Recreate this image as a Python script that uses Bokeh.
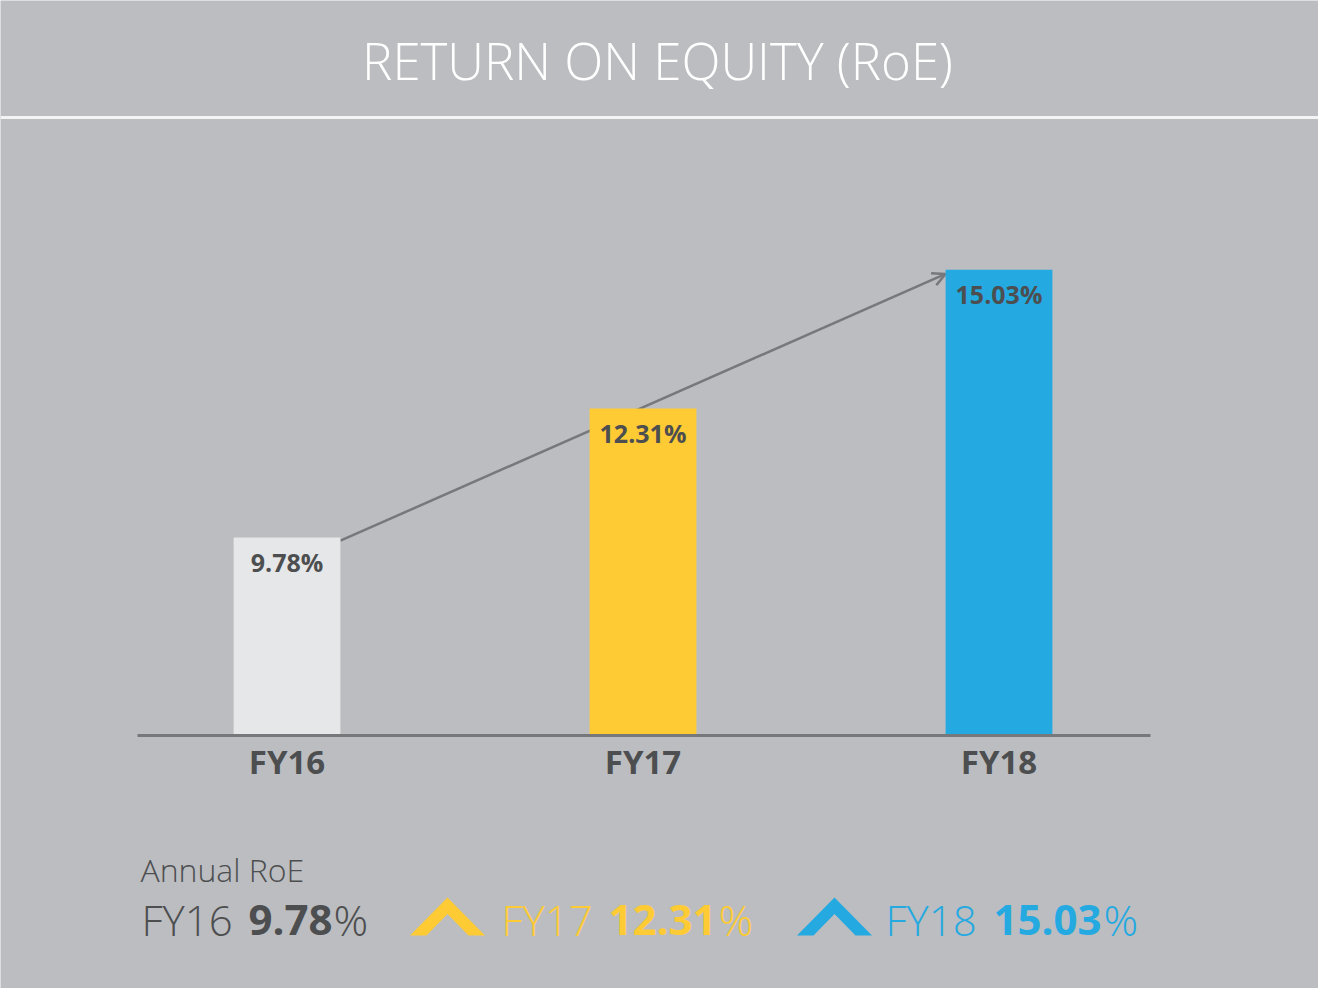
from bokeh.plotting import figure
from bokeh.models import Range1d, Label, LabelSet, Arrow, OpenHead, Span, ColumnDataSource
from bokeh.core.properties import value
from bokeh.embed import file_html
from bokeh.resources import INLINE

# ---- data ----
years = ["FY16", "FY17", "FY18"]
roe = [9.78, 12.31, 15.03]
bar_colors = ["#e6e7e8", "#fecb35", "#25a9e1"]
legend_colors = ["#4d4e50", "#fecb35", "#25a9e1"]
title_text = "RETURN ON EQUITY (RoE)"
legend_title = "Annual RoE"

# ---- layout constants ----
W, H = 1318, 988
BG = "#bcbdc0"
DARK = "#4d4e50"
LINE = "#77787b"
LIGHT_FONT = "'Open Sans Light', 'Open Sans'"
FONT = "Open Sans"

Y_FLOOR = 5.9          # value at which the bars start (axis floor)
PX_PER_UNIT = 51.0     # vertical pixels per RoE point
BASE_FY = 735          # baseline position from figure top
X_SPACING = 356.0      # pixels between bar centres
FIRST_FX = 286.5       # first bar centre from figure left
BAR_W = 0.30

y_top = Y_FLOOR + BASE_FY / PX_PER_UNIT
y_bot = Y_FLOOR - (H - BASE_FY) / PX_PER_UNIT
x_start = -FIRST_FX / X_SPACING
x_end = x_start + W / X_SPACING


def ydata(py):
    return y_top - (py - 8) / PX_PER_UNIT


def xdata(px):
    return x_start + (px - 8) / X_SPACING


p = figure(width=W, height=H, output_backend="svg", toolbar_location=None,
           x_range=Range1d(x_start, x_end), y_range=Range1d(y_bot, y_top),
           min_border=0, min_border_left=0, min_border_right=0,
           min_border_top=0, min_border_bottom=0)
p.axis.visible = False
p.grid.visible = False
p.outline_line_color = None
p.background_fill_color = BG
p.border_fill_color = BG

idx = list(range(len(years)))

# trend arrow (under the bars)
p.add_layout(Arrow(end=OpenHead(size=13, line_color=LINE, line_width=2.5),
                   x_start=idx[0] + BAR_W / 2, y_start=roe[0] - 0.06,
                   x_end=idx[-1] - BAR_W / 2, y_end=roe[-1] - 0.08,
                   line_color=LINE, line_width=2.5, level="underlay"))

src = ColumnDataSource(dict(x=idx, top=roe, color=bar_colors, year=years,
                            lab=[f"{v:.2f}%" for v in roe],
                            base=[Y_FLOOR] * len(years)))
p.vbar(x="x", top="top", bottom=Y_FLOOR, width=BAR_W, fill_color="color",
       line_color=None, source=src)

# baseline
p.segment(x0=[xdata(145)], y0=[Y_FLOOR], x1=[xdata(1158)], y1=[Y_FLOOR],
          line_color=LINE, line_width=3)

p.add_layout(LabelSet(x="x", y="top", text="lab", source=src, y_offset=-24,
                      text_align="center", text_baseline="middle",
                      text_font=value(FONT), text_font_style="bold",
                      text_font_size="25px", text_color=DARK))
p.add_layout(LabelSet(x="x", y="base", text="year", source=src, y_offset=-26,
                      text_align="center", text_baseline="middle",
                      text_font=value(FONT), text_font_style="bold",
                      text_font_size="33px", text_color=DARK))

# title band
p.add_layout(Span(location=ydata(125), dimension="width",
                  line_color="#f4f4f4", line_width=3))
p.add_layout(Label(x=657, x_units="screen", y=ydata(67), text=title_text,
                   text_align="center", text_baseline="middle",
                   text_font=LIGHT_FONT, text_font_size="51px",
                   text_color="white"))

# bottom summary
TXT_SHIFT = 15  # alphabetic-baseline correction (px)
p.add_layout(Label(x=140, x_units="screen", y=ydata(892 - TXT_SHIFT), text=legend_title,
                   text_baseline="alphabetic", text_font=LIGHT_FONT,
                   text_font_size="32px", text_color=DARK))

year_fx = [141, 501, 885]
val_fx = [248, 608, 993]
pct_fx = [333, 718, 1103]
chev_cx = [None, 455, 842]
row_py = 942 - TXT_SHIFT
for i in idx:
    c = legend_colors[i]
    p.add_layout(Label(x=year_fx[i], x_units="screen", y=ydata(row_py),
                       text=years[i], text_baseline="alphabetic",
                       text_font=LIGHT_FONT, text_font_size="42px", text_color=c))
    p.add_layout(Label(x=val_fx[i], x_units="screen", y=ydata(row_py),
                       text=f"{roe[i]:.2f}", text_baseline="alphabetic",
                       text_font=FONT, text_font_style="bold",
                       text_font_size="42px", text_color=c))
    p.add_layout(Label(x=pct_fx[i], x_units="screen", y=ydata(row_py),
                       text="%", text_baseline="alphabetic",
                       text_font=LIGHT_FONT, text_font_size="43px", text_color=c))
    if chev_cx[i] is not None:
        cx = chev_cx[i]
        pts = [(cx - 37.5, 943), (cx, 905), (cx + 37.5, 943),
               (cx + 21, 943), (cx, 921.5), (cx - 21, 943)]
        p.patch([xdata(a) for a, b in pts], [ydata(b) for a, b in pts],
                fill_color=c, line_color=None)

open("out.html", "w").write(file_html(p, INLINE))
